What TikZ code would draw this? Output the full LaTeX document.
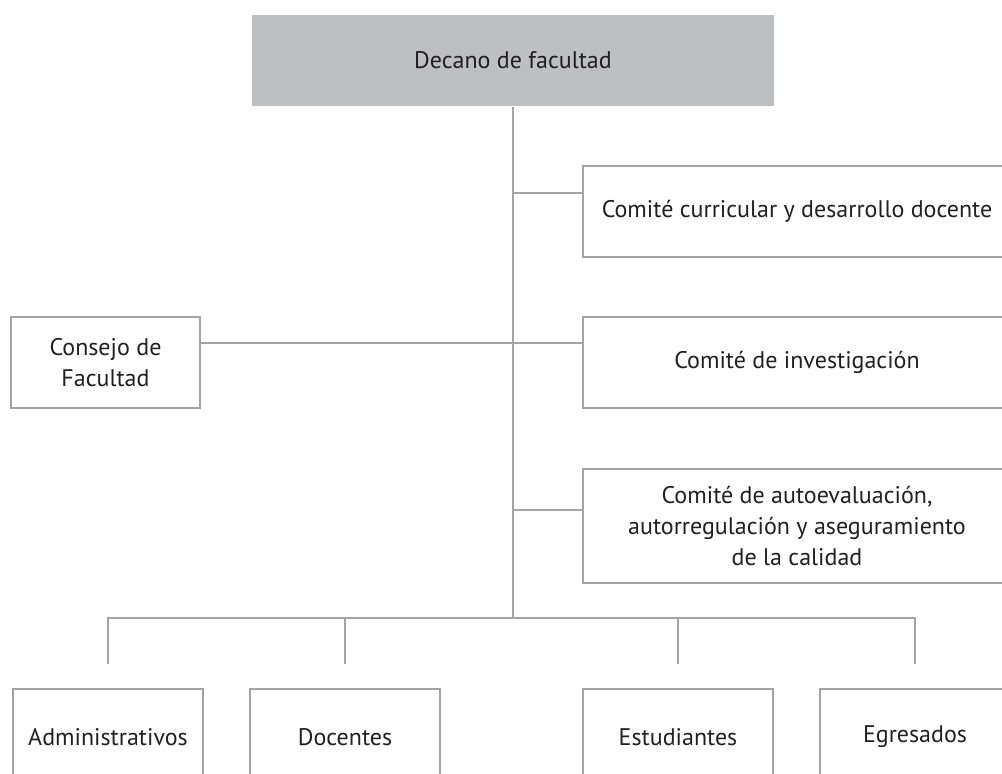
\documentclass[tikz,border=0pt]{standalone}
\usepackage{fontspec}
\setmainfont{PT Sans}
\usetikzlibrary{positioning}
\definecolor{linegray}{HTML}{A3A3A3}
\definecolor{deanfill}{HTML}{BEBFC2}
\definecolor{textgray}{HTML}{231F20}
\begin{document}
\begin{tikzpicture}[x=1pt, y=-1pt, font=\fontsize{24}{31}\selectfont, text=textgray]
                \tikzstyle{unit} = [draw=linegray, line width=1.2pt, align=center, inner sep=0pt]
                \tikzstyle{dean} = [unit, draw=none, fill=deanfill]
                \tikzstyle{link} = [draw=linegray, line width=1.5pt]
                \useasboundingbox (0,0) rectangle (1002,774);

                % Dean (top, grey background)
                \node[dean, minimum width=522pt, minimum height=91pt] (dean) at (513,60.5) {Decano de facultad};

                % Committees (right column, cut by the right edge)
                \node[unit, minimum width=428pt, minimum height=91pt] (curricular) at (797,211.5) {Comité curricular y desarrollo docente};
                \node[unit, minimum width=428pt, minimum height=91pt] (investigacion) at (797,362.5) {Comité de investigación};
                \node[unit, minimum width=428pt, minimum height=114pt] (calidad) at (797,526) {Comité de autoevaluación,\\autorregulación y aseguramiento\\de la calidad};

                % Council (left)
                \node[unit, minimum width=189pt, minimum height=91pt] (consejo) at (105.5,362.5) {Consejo de\\Facultad};

                % Bottom row (cut by the lower edge)
                \node[unit, minimum width=190pt, minimum height=96pt] (admin) at (108,737) {Administrativos};
                \node[unit, minimum width=190pt, minimum height=96pt] (docentes) at (345,737) {Docentes};
                \node[unit, minimum width=190pt, minimum height=96pt] (estudiantes) at (678,737) {Estudiantes};
                \node[unit, minimum width=190pt, minimum height=96pt] (egresados) at (915,737) {Egresados};

                % Joints on the trunk
                \coordinate (j1) at (513,193);
                \coordinate (j2) at (513,343);
                \coordinate (j3) at (513,510);
                \coordinate (bar) at (513,618);

                \draw[link] (dean.south) -- (bar);
                \draw[link] (j1) -- (j1 -| curricular.west);
                \draw[link] (consejo.east |- j2) -- (j2 -| investigacion.west);
                \draw[link] (j3) -- (j3 -| calidad.west);
                \draw[link] ([yshift=24pt]admin.north) |- (bar) -| ([yshift=24pt]egresados.north);
                \draw[link] (docentes.north |- bar) -- ([yshift=24pt]docentes.north);
                \draw[link] (estudiantes.north |- bar) -- ([yshift=24pt]estudiantes.north);
            \end{tikzpicture}
\end{document}
